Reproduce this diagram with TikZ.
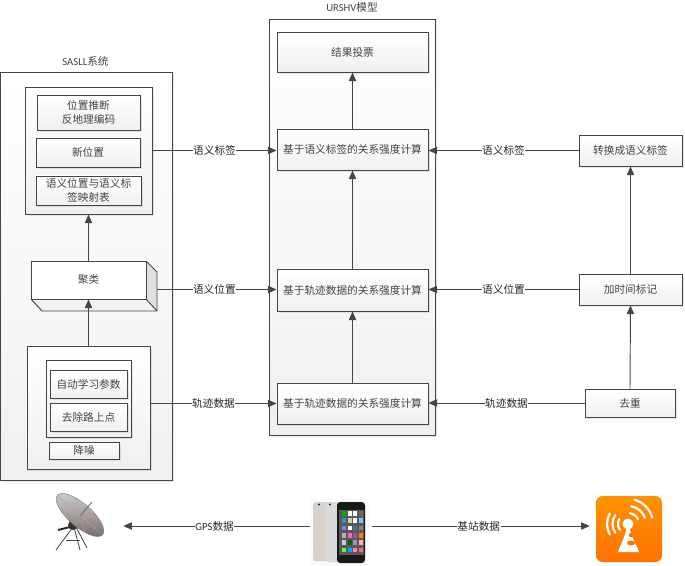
\documentclass[tikz,border=0pt]{standalone}
\usepackage{fontspec}
\setmainfont{Noto Sans CJK SC}
\newfontfamily\latinf{Carlito}
\usetikzlibrary{arrows.meta,shadows,shadings,calc}
\definecolor{ln}{HTML}{454545}
\definecolor{tx}{HTML}{444444}
\definecolor{dishpink}{HTML}{A89C9C}
\definecolor{dishdark}{HTML}{7D7272}
\tikzset{
  x=0.75pt,y=-0.75pt,
  softshadow/.style={general shadow={fill=black,opacity=.09,shadow xshift=1.5pt,shadow yshift=-1.5pt}},
  boxbase/.style={draw=ln,line width=.7pt,inner sep=0pt,align=center,text=tx,font=\fontsize{8}{11}\selectfont,softshadow,
    top color=white,bottom color=black!6},
  outerbox/.style={boxbase,top color=white,bottom color=black!6},
  flow/.style={draw=ln,line width=.7pt,-{Triangle[length=6.5pt,width=5.5pt]}},
  lbl/.style={fill=white,inner sep=.4pt,text=black!85,font=\fontsize{8}{10}\selectfont},
  ttl/.style={text=tx,font=\fontsize{8}{10}\selectfont,inner sep=0pt},
  iconspot/.style={inner sep=0pt}
}
\newcommand{\bx}[7][boxbase]{%
  \node[#1,minimum width={(#5-#3)*0.75pt},minimum height={(#6-#4)*0.75pt}] (#2) at ({(#3+#5)/2},{(#4+#6)/2}) {#7};}
\begin{document}
\begin{tikzpicture}
\useasboundingbox (0,0) rectangle (685,566);
% containers
\bx[outerbox]{sasll}{0.5}{72}{172}{480}{}
\bx[outerbox]{urshv}{269}{19}{435}{435}{}
\node[ttl] (sasllt) at (85.5,61) {{\latinf SASLL}系统};
\node[ttl] (urshvt) at (352,7.5) {{\latinf URSHV}模型};
% SASLL top group
\bx{topg}{25}{87}{152}{214}{}
\bx{pos}{37}{95}{140}{130}{位置推断\\反地理编码}
\bx{newpos}{36}{138}{140}{167}{新位置}
\bx{mapt}{36}{176}{141}{205}{语义位置与语义标\\签映射表}
% cluster cuboid
\fill[black!12] (146,261) -- (157,272) -- (157,311) -- (146,299) -- cycle;
\fill[black!5] (31,299) -- (146,299) -- (157,311) -- (42,311) -- cycle;
\draw[ln,line width=.7pt,line join=round] (146,261) -- (157,272) -- (157,311) -- (42,311) -- (31,299);
\draw[ln,line width=.7pt] (146,299) -- (157,311);
\node[draw=ln,line width=.7pt,fill=white,inner sep=0pt,text=tx,font=\fontsize{8}{11}\selectfont,minimum width=86.25pt,minimum height=28.5pt] (cluster) at (88.5,280) {聚类};
\coordinate (clusterside) at (157,289.5);
% SASLL bottom group
\bx{botg}{27}{346}{150}{469}{}
\bx{inner}{46}{360}{131}{437}{}
\bx{autop}{50}{370}{127}{398}{自动学习参数}
\bx{road}{50}{403}{127}{431}{去除路上点}
\bx{denoise}{49}{442}{119}{459}{降噪}
% URSHV
\bx{vote}{277}{32}{428}{72}{结果投票}
\bx{rtag}{277}{129}{428}{170}{基于语义标签的关系强度计算}
\bx{rpos}{277}{269}{428}{311}{基于轨迹数据的关系强度计算}
\bx{rtrj}{277}{383}{428}{424}{基于轨迹数据的关系强度计算}
% right column
\bx{conv}{579}{135}{682}{166}{转换成语义标签}
\bx{stamp}{579}{274}{682}{305}{加时间标记}
\bx{dedup}{585}{389}{675}{417}{去重}
% icon places
\node[iconspot,minimum width=57pt,minimum height=54pt] (dish) at (85,526) {};
\node[iconspot,minimum width=46.5pt,minimum height=54pt] (phone) at (341,526) {};
\node[iconspot,minimum width=58.5pt,minimum height=54pt] (tower) at (629,526) {};
% dish
\begin{scope}
  \draw[black!75,line width=.6pt] (73,527) -- (56,550);
  \draw[black!75,line width=.6pt] (74,527) -- (80,550);
  \draw[black!75,line width=.6pt] (75,525) -- (87,548);
  \draw[black!70,line width=.5pt] (66,540) -- (80,540);
  \draw[black!85,line width=1.4pt] (58,530) -- (74,526);
  \fill[black!80] (73,525) circle [radius=5];
  \begin{scope}[shift={(80,515)},rotate=-41]
    \shade[left color=black!22,right color=dishdark,middle color=dishpink,shading angle=0] (0,0) ellipse [x radius=30,y radius=11.5];
    \draw[black!35,line width=.3pt] (-30,0) -- (30,0) (-15,-10) -- (15,10) (-15,10) -- (15,-10) (0,-11.5) -- (0,11.5);
    \draw[black!50,line width=.35pt] (0,0) ellipse [x radius=30,y radius=11.5];
  \end{scope}
  \draw[black!55,line width=.7pt] (80,516) -- (92,502);
\end{scope}
% phones
\begin{scope}
  \fill[black!2] (310,499) rectangle (369,565);
  \fill[orange!25!black!20!white,rounded corners=2pt] (313,502) rectangle (331,561);
  \fill[black!15,rounded corners=2pt] (325,502) rectangle (340,562);
  \fill[black!85] (319,504.5) circle [radius=1.2] (330,504.5) circle [radius=1.2];
  \fill[black!90,rounded corners=2.5pt] (337,502) rectangle (365,563);
  \fill[black!65] (339,510) rectangle (364,555);
  \foreach \c [count=\i from 0] in {green!70!black,white,white,black!60,
      cyan!70!black,black!20,white,cyan!60,
      blue!50!white,white,cyan!50!black,black!50,
      black!30,magenta!60,violet!70,orange,
      black!20,green!40!black,black!40,white!70!red,
      green!70,cyan,white!50!magenta,red!60} {
    \pgfmathsetmacro{\cx}{341+mod(\i,4)*5.6+1}
    \pgfmathsetmacro{\cy}{511+floor(\i/4)*7.3}
    \fill[\c] (\cx,\cy) rectangle ++(4,4.6);
  }
\end{scope}
% tower icon
\begin{scope}
  \shade[top color=orange!85!yellow,bottom color=orange!90!red,rounded corners=5pt] (596,496) rectangle (662,562);
  \begin{scope}[shift={(628,524)},y=0.75pt]
    \draw[white,line width=1.6pt,line cap=round] (150:10) arc (150:215:10) (145:15.5) arc (145:215:15.5) (150:21) arc (150:210:21);
    \draw[white,line width=1.6pt,line cap=round] (80:11) arc (80:25:11) (80:18) arc (80:20:18) (75:25) arc (75:15:25);
    \fill[white] (-1,0) -- (1,0) to[out=-85,in=110] (11,-28) -- (-10,-28) to[out=70,in=-95] cycle;
    \fill[white] (0,0) circle [radius=5.5];
    \fill[orange!90!red] (3,-11) ellipse [x radius=2.5,y radius=2];
    \fill[orange!90!red] (3,-19) ellipse [x radius=4,y radius=2.5];
  \end{scope}
\end{scope}
% vertical flows
\draw[flow] (cluster.north) -- (topg.south);
\draw[flow] (botg.north) -- (cluster.south -| botg.north);
\draw[flow] (rtag.north) -- (vote.south);
\draw[flow] (rpos.north) -- (rtag.south);
\draw[flow] (rtrj.north) -- (rpos.south);
\draw[flow] (stamp.north) -- (conv.south);
\draw[flow] (dedup.north) -- (stamp.south);
% horizontal flows
\draw[flow] (topg.east) -- node[lbl,pos=.5] (l1) {语义标签} (topg.east -| rtag.west);
\draw[flow] (clusterside) -- node[lbl,pos=.48] (l2) {语义位置} (clusterside -| rpos.west);
\draw[flow] (botg.east |- rtrj.west) -- node[lbl,pos=.5] (l3) {轨迹数据} (rtrj.west);
\draw[flow] (conv.west) -- node[lbl,pos=.5] (l4) {语义标签} (conv.west -| rtag.east);
\draw[flow] (stamp.west) -- node[lbl,pos=.5] (l5) {语义位置} (stamp.west -| rpos.east);
\draw[flow] (dedup.west) -- node[lbl,pos=.5] (l6) {轨迹数据} (dedup.west -| rtrj.east);
\draw[flow] (phone.west) -- node[lbl,pos=.51] (l7) {{\latinf GPS}数据} (dish.east);
\draw[flow] (phone.east) -- node[lbl,pos=.49] (l8) {基站数据} (tower.west);
\end{tikzpicture}
\end{document}
